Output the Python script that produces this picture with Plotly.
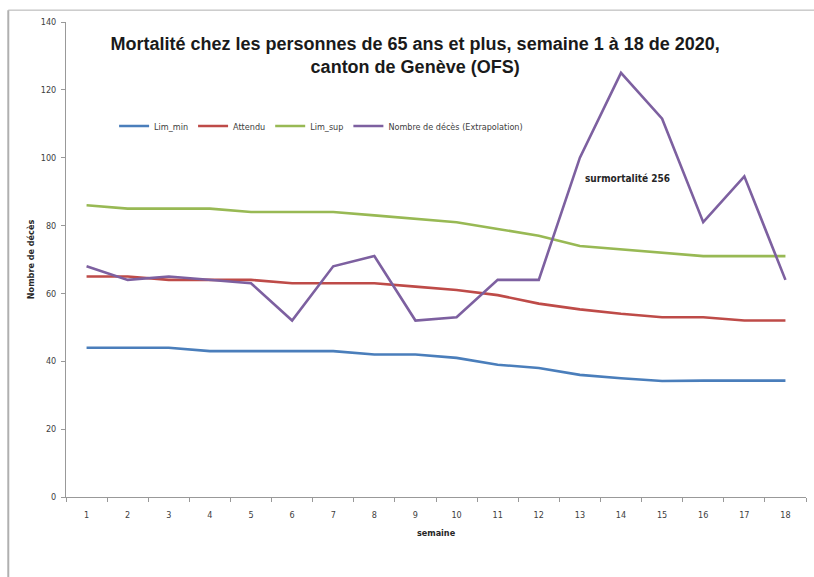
import plotly.graph_objects as go

weeks = [str(i) for i in range(1, 19)]
lim_min = [44, 44, 44, 43, 43, 43, 43, 42, 42, 41, 39, 38, 36, 35, 34.2, 34.3, 34.3, 34.3]
attendu = [65, 65, 64, 64, 64, 63, 63, 63, 62, 61, 59.5, 57, 55.3, 54, 53, 53, 52, 52]
lim_sup = [86, 85, 85, 85, 84, 84, 84, 83, 82, 81, 79, 77, 74, 73, 72, 71, 71, 71]
deces = [68, 64, 65, 64, 63, 52, 68, 71, 52, 53, 64, 64, 100, 125, 111.5, 81, 94.5, 64]

series_names = ["Lim_min", "Attendu", "Lim_sup", "Nombre de décès (Extrapolation)"]
series_vals = [lim_min, attendu, lim_sup, deces]
colors = ["#4a7ebb", "#be4b48", "#98b954", "#7d60a0"]

FONT = "Liberation Sans Narrow, DejaVu Sans Condensed, Liberation Sans, sans-serif"
TFONT = "Liberation Sans, sans-serif"

fig = go.Figure()
for name, vals, col in zip(series_names, series_vals, colors):
    fig.add_trace(go.Scatter(x=weeks, y=vals, name=name, mode="lines",
                             line=dict(color=col, width=2.6)))

fig.update_layout(
    width=814, height=577,
    margin=dict(l=66, r=8, t=22, b=80, autoexpand=False),
    paper_bgcolor="white", plot_bgcolor="white",
    font=dict(family=FONT, size=9, color="#404040"),
    title=dict(text="<b>Mortalité chez les personnes de 65 ans et plus, semaine 1 à 18 de 2020,<br>canton de Genève (OFS)</b>",
               x=0.51, xanchor="center", y=0.914, yanchor="middle",
               font=dict(family=TFONT, size=18, color="#1a1a1a")),
    showlegend=True,
    legend=dict(orientation="h", x=0.065, y=0.781, xanchor="left", yanchor="middle",
                font=dict(family=FONT, size=9, color="#404040"),
                bgcolor="rgba(0,0,0,0)", itemwidth=30, tracegroupgap=0),
    xaxis=dict(type="category", tickson="boundaries", ticks="outside", ticklen=4,
               tickcolor="#999999", showline=True, linecolor="#999999", linewidth=1,
               showgrid=False, zeroline=False, range=[-0.5, 17.5], automargin=False,
               ticklabelstandoff=9,
               tickfont=dict(family=FONT, size=9, color="#404040"),
               title=dict(text="<b>semaine</b>", font=dict(family=FONT, size=9, color="#262626"), standoff=10)),
    yaxis=dict(range=[0, 140], dtick=20, ticks="outside", ticklen=4, tickcolor="#999999",
               showline=True, linecolor="#999999", linewidth=1, showgrid=False, zeroline=False,
               automargin=False, ticklabelstandoff=3,
               tickfont=dict(family=FONT, size=9, color="#404040"),
               title=dict(text="<b>Nombre de décès</b>", font=dict(family=FONT, size=9, color="#262626"), standoff=4)),
)

fig.add_annotation(x=13.15, y=94, xref="x", yref="y", text="<b>surmortalité 256</b>",
                   showarrow=False, font=dict(family=FONT, size=10, color="#262626"))

# outer chart frame
fig.add_shape(type="line", xref="paper", yref="paper", x0=-0.078, x1=-0.078, y0=-0.2, y1=1.025,
              line=dict(color="#b0b0b0", width=2))
fig.add_shape(type="line", xref="paper", yref="paper", x0=-0.078, x1=1.02, y0=1.025, y1=1.025,
              line=dict(color="#b0b0b0", width=1))

fig.write_html("out.html", config={"displayModeBar": False},
               post_script="document.body.style.margin='0px';document.body.style.overflow='hidden';")
